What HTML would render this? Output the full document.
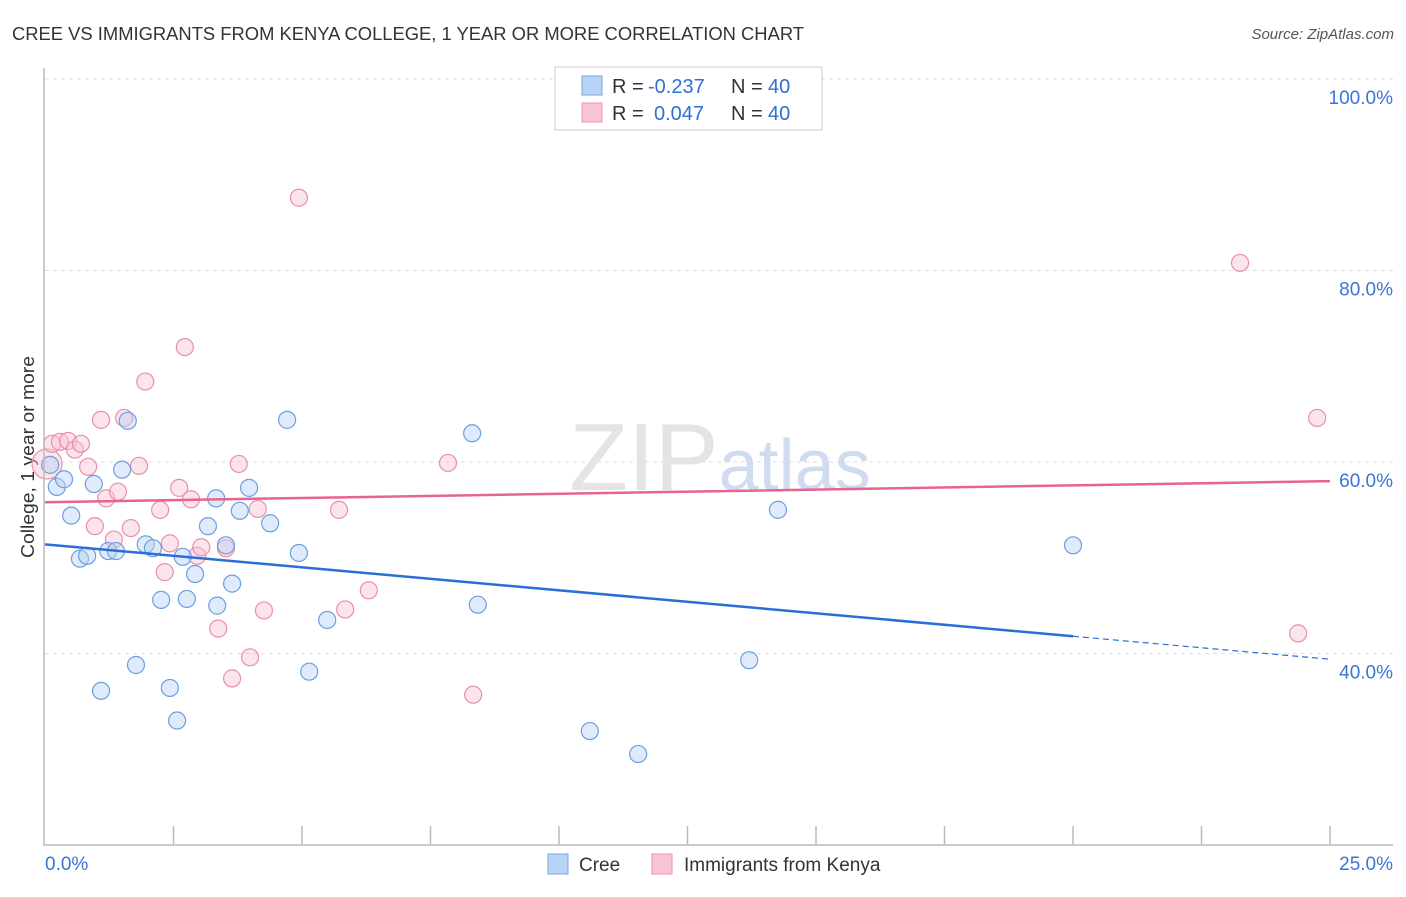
<!DOCTYPE html>
<html><head><meta charset="utf-8"><style>
body{margin:0;background:#fff;font-family:"Liberation Sans",sans-serif}
svg text{font-family:"Liberation Sans",sans-serif}
</style></head><body>
<svg id="c" width="1406" height="892" viewBox="0 0 1406 892" xmlns="http://www.w3.org/2000/svg">
<text x="12" y="40" font-size="18" fill="#333" textLength="792" lengthAdjust="spacingAndGlyphs">CREE VS IMMIGRANTS FROM KENYA COLLEGE, 1 YEAR OR MORE CORRELATION CHART</text>
<text x="1394" y="39" font-size="15" fill="#555" font-style="italic" text-anchor="end">Source: ZipAtlas.com</text>
<text transform="translate(34,457) rotate(-90)" font-size="18" fill="#333" text-anchor="middle" textLength="202" lengthAdjust="spacingAndGlyphs">College, 1 year or more</text>
<g id="grid"></g>
<text x="720" y="490" font-size="96" fill="#e4e4e4" text-anchor="middle" font-family="Liberation Serif">ZIP<tspan fill="#cfdcf0" font-family="Liberation Sans" font-size="72">atlas</tspan></text>
<g id="pts"></g>
<g id="lines"></g>
<g id="axes"></g>
<g>
<rect x="555" y="67" width="267" height="63" fill="#fff" stroke="#ccc"/>
<rect x="582" y="76" width="20" height="19" fill="#b9d3f5" stroke="#7aa7e3"/>
<rect x="582" y="103" width="20" height="19" fill="#f9c4d3" stroke="#ea93ae"/>
<text x="612" y="93" font-size="20" fill="#333">R =</text>
<text x="648" y="93" font-size="20" fill="#2f6fd6">-0.237</text>
<text x="731" y="93" font-size="20" fill="#333">N =</text>
<text x="768" y="93" font-size="20" fill="#2f6fd6">40</text>
<text x="612" y="120" font-size="20" fill="#333">R =</text>
<text x="654" y="120" font-size="20" fill="#2f6fd6">0.047</text>
<text x="731" y="120" font-size="20" fill="#333">N =</text>
<text x="768" y="120" font-size="20" fill="#2f6fd6">40</text>
</g>
<g>
<rect x="548" y="854" width="20" height="20" fill="#b9d3f5" stroke="#7aa7e3"/>
<text x="579" y="871" font-size="19" fill="#333">Cree</text>
<rect x="652" y="854" width="20" height="20" fill="#f9c4d3" stroke="#ea93ae"/>
<text x="684" y="871" font-size="19" fill="#333">Immigrants from Kenya</text>
</g>
</svg>
<script>
const blueX=[0.10,0.23,0.37,0.51,0.68,0.82,0.95,1.09,1.23,1.38,1.50,1.61,1.77,1.96,2.10,2.26,2.43,2.57,2.68,2.76,2.92,3.17,3.33,3.35,3.52,3.64,3.79,3.97,4.38,4.71,4.94,5.14,5.49,8.31,8.42,10.60,11.54,13.70,14.26,20.0];
const blueY=[59.7,57.4,58.2,54.4,49.9,50.2,57.7,36.1,50.7,50.7,59.2,64.3,38.8,51.4,51.0,45.6,36.4,33.0,50.1,45.7,48.3,53.3,56.2,45.0,51.3,47.3,54.9,57.3,53.6,64.4,50.5,38.1,43.5,63.0,45.1,31.9,29.5,39.3,55.0,51.3];
const pinkX=[0.04,0.14,0.29,0.45,0.58,0.70,0.84,0.97,1.09,1.19,1.34,1.42,1.54,1.67,1.83,1.95,2.24,2.33,2.43,2.61,2.72,2.84,2.96,3.04,3.37,3.52,3.64,3.77,3.99,4.14,4.26,4.94,5.72,5.84,6.30,7.84,8.33,23.25,24.38,24.75];
const pinkY=[59.8,61.9,62.1,62.2,61.3,61.9,59.5,53.3,64.4,56.2,51.9,56.9,64.6,53.1,59.6,68.4,55.0,48.5,51.5,57.3,72.0,56.1,50.2,51.1,42.6,51.0,37.4,59.8,39.6,55.1,44.5,87.6,55.0,44.6,46.6,59.9,35.7,80.8,42.1,64.6];
const blueTrend=[51.4,-0.48];
const pinkTrend=[55.8,0.088];
const yTicks=[40,60,80,100];
const xTicks=[0,2.5,5,7.5,10,12.5,15,17.5,20,22.5,25];
const NS='http://www.w3.org/2000/svg';
const X=v=>45+v*51.4, Y=v=>79+(100-v)*9.575;
function mk(t,a,p){const e=document.createElementNS(NS,t);for(const k in a)e.setAttribute(k,a[k]);p.appendChild(e);return e;}
const grid=document.getElementById('grid'),axes=document.getElementById('axes'),pts=document.getElementById('pts'),lines=document.getElementById('lines');
yTicks.forEach(v=>{
 const l=mk('line',{x1:45,x2:1393,y1:Y(v),y2:Y(v),stroke:'#ddd','stroke-dasharray':'4,4'},grid);
 
 
 const t=mk('text',{x:1393,y:Y(v)+25,'font-size':19,fill:'#3b74d6','text-anchor':'end'},axes);
 t.textContent=v.toFixed(1)+'%';
 
 
});
const ax=mk('path',{d:'M44,68 L44,845 L1393,845',fill:'none',stroke:'#bbb','stroke-width':1.5},axes);


xTicks.slice(1).forEach(v=>{
 const l=mk('line',{x1:X(v),x2:X(v),y1:826,y2:845,stroke:'#bbb','stroke-width':1.5},axes);
 
 
});
[[0,'start',45],[25,'end',1393]].forEach(([v,a,px])=>{
 const t=mk('text',{x:px,y:870,'font-size':19,fill:'#3b74d6','text-anchor':a},axes);
 t.textContent=v.toFixed(1)+'%';
 
 
});
function dots(xs,ys,fill,stroke,name){
 xs.forEach((x,i)=>{
  const r=(name==='kenya'&&i===0)?15:8.5;
  const c=mk('circle',{cx:X(x),cy:Y(ys[i]),r:r,fill:fill,'fill-opacity':0.45,stroke:stroke,'stroke-width':1.2},pts);
  
  
 });
}
dots(pinkX,pinkY,'#f9c4d3','#e890ab','kenya');
dots(blueX,blueY,'#b9d3f5','#6d9ee0','cree');
const b1=mk('line',{x1:X(0),y1:Y(blueTrend[0]),x2:X(20),y2:Y(blueTrend[0]+blueTrend[1]*20),stroke:'#2a6fd8','stroke-width':2.5},lines);


const b2=mk('line',{x1:X(20),y1:Y(blueTrend[0]+blueTrend[1]*20),x2:X(25),y2:Y(blueTrend[0]+blueTrend[1]*25),stroke:'#2a6fd8','stroke-width':1.2,'stroke-dasharray':'6,4'},lines);


const p1=mk('line',{x1:X(0),y1:Y(pinkTrend[0]),x2:X(25),y2:Y(pinkTrend[0]+pinkTrend[1]*25),stroke:'#e8648e','stroke-width':2.5},lines);


</script>
</body></html>
